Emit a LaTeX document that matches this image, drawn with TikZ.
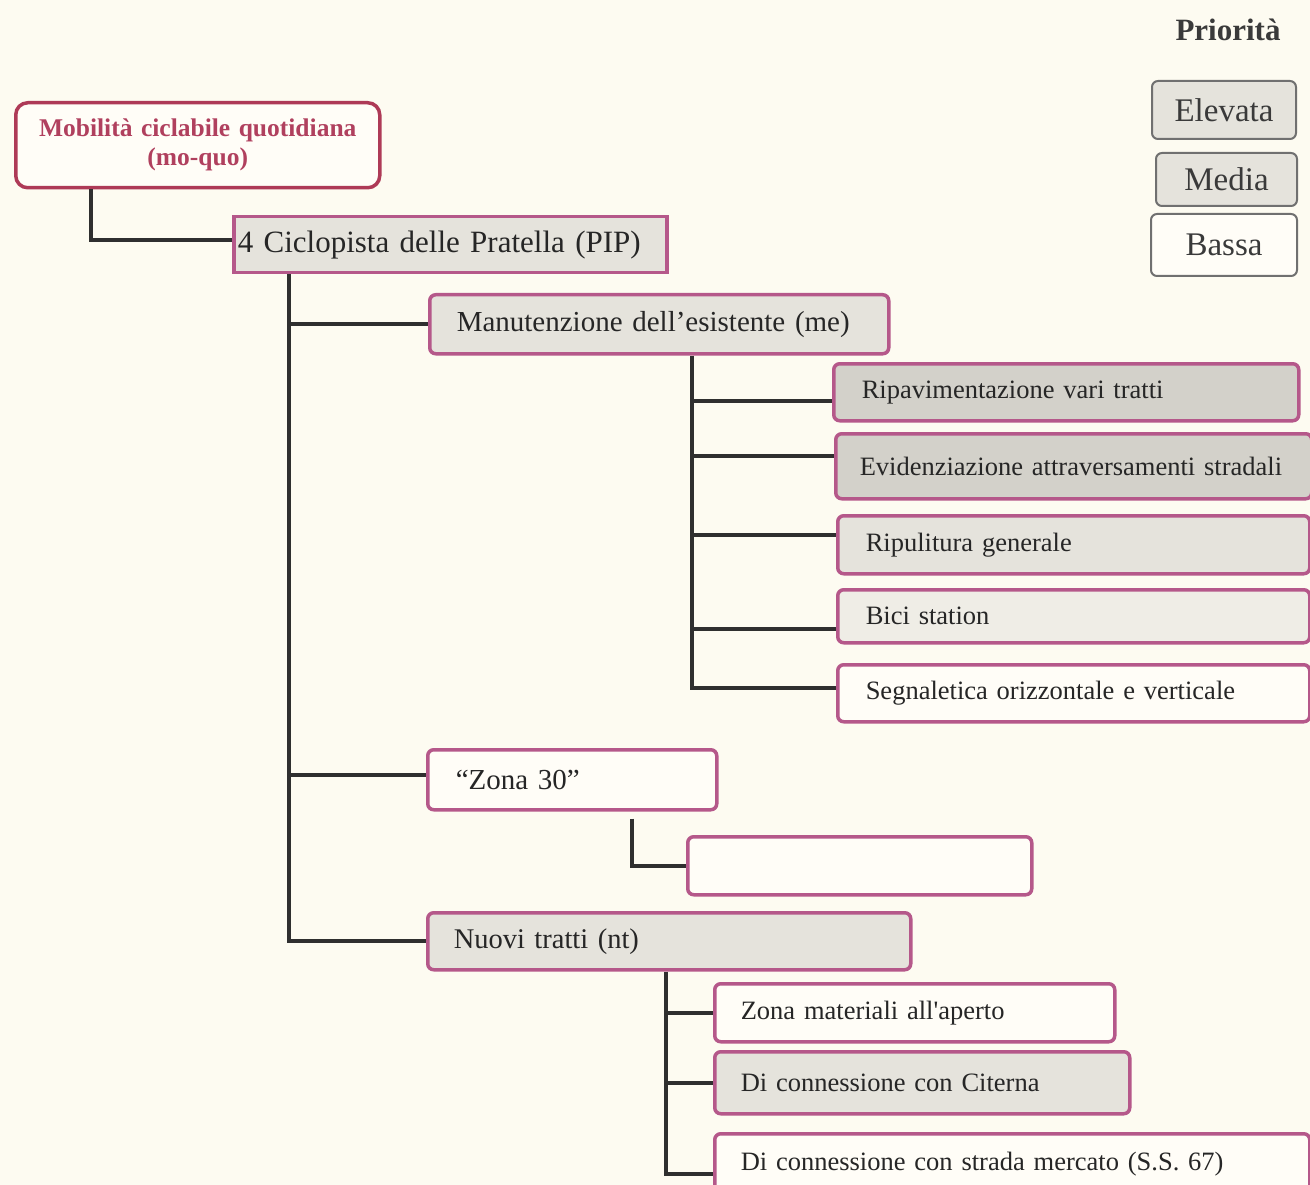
\documentclass[tikz,border=0pt]{standalone}
\usepackage{fontspec}
\setmainfont{Liberation Serif}
\usetikzlibrary{calc}
\definecolor{paper}{HTML}{FDFBF1}
\definecolor{boxline}{HTML}{B5588A}
\definecolor{rootline}{HTML}{AE3A57}
\definecolor{roottext}{HTML}{B0405E}
\definecolor{greyhigh}{HTML}{D3D1CA}
\definecolor{greymid}{HTML}{E5E3DC}
\definecolor{greylow}{HTML}{EFEDE6}
\definecolor{plain}{HTML}{FFFDF7}
\definecolor{wire}{HTML}{2F2F2F}
\definecolor{legline}{HTML}{707070}
\definecolor{legtext}{HTML}{3A3A3A}
\tikzset{
  box/.style={draw=boxline, line width=3.5pt, rounded corners=6pt, anchor=north west,
    align=left, text=black!85, font=\fontsize{26.5}{30}\selectfont},
  conn/.style={draw=wire, line width=4pt},
  legbox/.style={draw=legline, line width=2pt, rounded corners=6pt, anchor=north west,
    align=center, text=legtext, font=\fontsize{33}{36}\selectfont},
}
\begin{document}
\begin{tikzpicture}[x=1pt,y=-1pt]
\fill[paper] (0,0) rectangle (1310,1185);
\useasboundingbox (0,0) rectangle (1310,1185);

% root and main branch
\node[box, draw=rootline, fill=plain, rounded corners=12pt, minimum width=364pt, minimum height=85pt,
  text width=340pt, inner xsep=12pt, align=center, text=roottext,
  font=\fontsize{25.5}{29}\selectfont\bfseries] (root) at (14,101)
  {Mobilità ciclabile quotidiana\\(mo-quo)};
\node[box, fill=greymid, rounded corners=0pt, minimum height=56pt, text width=425pt, inner xsep=4pt,
  font=\fontsize{31}{34}\selectfont] (pip) at (232,215) {4 Ciclopista delle Pratella (PIP)};

% second level
\node[box, fill=greymid, minimum height=59pt, text width=405pt, inner xsep=27pt,
  font=\fontsize{29}{32}\selectfont] (me) at (428,293) {Manutenzione dell’esistente (me)};
\node[box, fill=plain, minimum height=60pt, text width=233pt, inner xsep=28pt,
  font=\fontsize{29}{32}\selectfont] (zona) at (426,748) {“Zona 30”};
\node[box, fill=greymid, minimum height=57pt, text width=431pt, inner xsep=26pt,
  font=\fontsize{28.5}{32}\selectfont] (nuovi) at (426,911) {Nuovi tratti (nt)};

% maintenance items
\node[box, fill=greyhigh, minimum height=57pt, text width=409pt, inner xsep=28pt] (ripav) at (832,362) {Ripavimentazione vari tratti};
\node[box, fill=greyhigh, minimum height=65pt, text width=428pt, inner xsep=24pt] (evid) at (834,432) {Evidenziazione attraversamenti stradali};
\node[box, fill=greymid, minimum height=58pt, text width=416pt, inner xsep=28pt] (ripul) at (836,514) {Ripulitura generale};
\node[box, fill=greylow, minimum height=53pt, text width=416pt, inner xsep=28pt] (bici) at (836,588) {Bici station};
\node[box, fill=plain, minimum height=57pt, text width=416pt, inner xsep=28pt] (segn) at (836,663) {Segnaletica orizzontale e verticale};

% zona 30 item (blank)
\node[box, fill=plain, minimum height=58pt, text width=288pt, inner xsep=28pt] (blank) at (686,835) {};

% new sections
\node[box, fill=plain, minimum height=58pt, text width=348pt, inner xsep=26pt] (zmat) at (713,982) {Zona materiali all\textquotesingle aperto};
\node[box, fill=greymid, minimum height=62pt, text width=363pt, inner xsep=26pt] (citerna) at (713,1050) {Di connessione con Citerna};
\node[box, fill=plain, minimum height=60pt, text width=543pt, inner xsep=26pt] (strada) at (713,1132) {Di connessione con strada mercato (S.S. 67)};

% connectors
\draw[conn] ($(root.south west)+(77,0)$) |- ($(pip.west)+(0,-5)$);
\coordinate (ptrunk) at ($(pip.south west)+(57,0)$);
\draw[conn] (ptrunk) |- (nuovi.west);
\draw[conn] (ptrunk |- me.west) -- (me.west);
\draw[conn] ($(ptrunk |- zona.west)+(0,-5)$) -- ($(zona.west)+(0,-5)$);

\coordinate (mtrunk) at ($(me.south west)+(264,0)$);
\draw[conn] (mtrunk) |- ($(segn.west)+(0,-5)$);
\foreach \n/\dy in {ripav/9,evid/-10,ripul/-10,bici/13}
  \draw[conn] ($(mtrunk |- \n.west)+(0,\dy)$) -- ($(\n.west)+(0,\dy)$);

\draw[conn] ($(zona.south west)+(206,7)$) |- (blank.west);

\coordinate (ntrunk) at ($(nuovi.south west)+(240,0)$);
\draw[conn] (ntrunk) |- ($(strada.west)+(0,10)$);
\foreach \n in {zmat,citerna} \draw[conn] (ntrunk |- \n.west) -- (\n.west);

% legend
\node[anchor=center, text=legtext, font=\fontsize{31}{34}\selectfont\bfseries] (ptitle) at (1228,30) {Priorità};
\node[legbox, fill=greymid, minimum width=144pt, minimum height=58pt] (elev) at (1151,80) {Elevata};
\node[legbox, fill=greymid, minimum width=141pt, minimum height=53pt] (media) at (1155,152) {Media};
\node[legbox, fill=plain, minimum width=146pt, minimum height=62pt] (bassa) at (1150,213) {Bassa};
\end{tikzpicture}
\end{document}
